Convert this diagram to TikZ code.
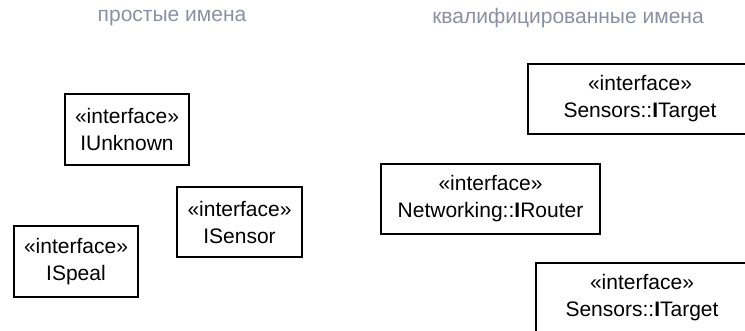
\documentclass[tikz,border=0pt]{standalone}
\usepackage{fontspec}
\setmainfont{Liberation Sans}
\usepackage{xcolor}
\definecolor{titlegray}{RGB}{138, 144, 162}
\tikzset{
	iface/.style={draw, line width=1.8pt, align=center, inner sep=0pt,
		font=\fontsize{21}{27}\selectfont, minimum height=70pt},
	colhead/.style={text=titlegray, font=\fontsize{21}{25}\selectfont}
}

\begin{document}
\begin{tikzpicture}[x=1pt, y=-1pt]
			\useasboundingbox (0,0) rectangle (745,331);
			\clip (0,0) rectangle (745,331);

			% column headings
			\node[colhead] (simple) at (172, 18) {простые имена};
			\node[colhead] (qualified) at (568, 18) {квалифицированные имена};

			% simple names
			\node[iface, minimum width=124pt, minimum height=71pt] (unknown) at (127, 129.5) {«interface»\\IUnknown};
			\node[iface, minimum width=125pt] (sensor) at (239.5, 222) {«interface»\\ISensor};
			\node[iface, minimum width=124pt, minimum height=71pt] (speal) at (76, 261.5) {«interface»\\ISpeal};

			% qualified names
			\node[iface, minimum width=224pt] (target) at (640, 99) {«interface»\\Sensors::\textbf{I}Target};
			\node[iface, minimum width=219pt] (router) at (490.5, 199) {«interface»\\Networking::\textbf{I}Router};
			\node[iface, minimum width=212pt] (targetb) at (642, 298) {«interface»\\Sensors::\textbf{I}Target};

		\end{tikzpicture}
\end{document}
